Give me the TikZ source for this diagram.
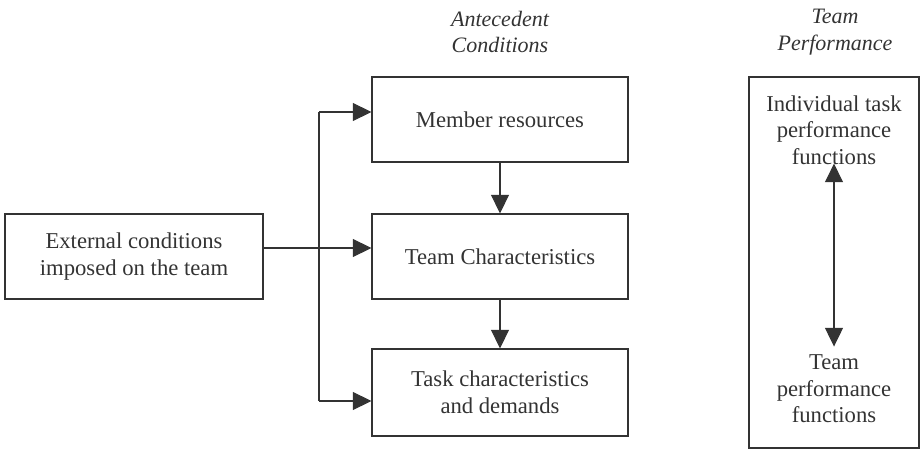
\documentclass[tikz,border=0pt]{standalone}
\usepackage{fontspec}
\setmainfont{Liberation Serif}
\usetikzlibrary{arrows.meta}
\definecolor{ink}{HTML}{333333}
\begin{document}
\begin{tikzpicture}[x=0.75pt,y=-0.75pt,
  box/.style={draw=ink, line width=0.8pt, align=center, text=ink,
    minimum width=256*0.75pt, minimum height=85*0.75pt, inner sep=0pt,
    font=\fontsize{17}{20}\selectfont},
  label/.style={align=center, text=ink, inner sep=1pt,
    font=\fontsize{17}{20}\selectfont},
  heading/.style={align=center, text=ink, font=\fontsize{16.5}{20}\selectfont\itshape},
  arr/.style={draw=ink, line width=0.8pt, -{Triangle[length=14pt,width=13.5pt]}},
  dbl/.style={draw=ink, line width=0.8pt, {Triangle[length=14pt,width=13.5pt]}-{Triangle[length=14pt,width=13.5pt]}}]
\useasboundingbox (0,0) rectangle (921,453);

% column headings
\node[heading] (hA) at (500,32) {Antecedent\\Conditions};
\node[heading] (hT) at (835,32) {Team\\Performance};

% external conditions
\node[box, minimum width=258*0.75pt] (ext) at (134,256.5) {External conditions\\imposed on the team};

% antecedent conditions
\node[box] (mem) at (500,119.5) {Member resources};
\node[box] (tc) at (500,256.5) {Team Characteristics};
\node[box, minimum height=87*0.75pt] (task) at (500,392.5) {Task characteristics\\and demands};

% team performance panel
\node[draw=ink, line width=0.8pt, minimum width=170*0.75pt, minimum height=371*0.75pt, inner sep=0pt] (perf) at (834,262.5) {};
\node[label] (ind) at (834,130) {Individual task\\performance\\functions};
\node[label] (tpf) at (834,389) {Team\\performance\\functions};

% branching connectors from the external conditions
\coordinate (split) at (319,248);
\coordinate (up) at (319,112);
\coordinate (down) at (319,401);
\draw[draw=ink, line width=0.8pt] (up) -- (down);
\draw[arr] (ext.east |- split) -- (tc.west |- split);
\draw[arr] (up) -- (mem.west |- up);
\draw[arr] (down) -- (task.west |- down);

% flow between antecedent conditions
\draw[arr] (mem.south) -- (tc.north);
\draw[arr] (tc.south) -- (task.north);

% link between performance functions
\draw[dbl] ([yshift=2pt]ind.south) -- ([yshift=5pt]tpf.north);
\end{tikzpicture}
\end{document}
